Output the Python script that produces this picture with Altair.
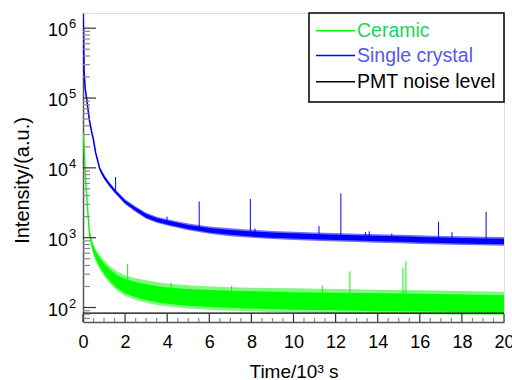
import altair as alt
import pandas as pd

# ---------------- data ----------------
# Single crystal (blue) decay: centre line
blue_t = [0, 0.02, 0.05, 0.1, 0.18, 0.3, 0.4, 0.5, 0.6, 0.8, 1.0, 1.25, 1.5, 2.0, 2.5,
          3.0, 3.5, 4.0, 5, 6, 7, 8, 9, 10, 11, 12, 13, 14, 15, 16, 17, 18, 19, 20]
blue_v = [1.6e6, 1.0e6, 2.5e5, 1.4e5, 9.5e4, 4.9e4, 3.4e4, 2.5e4, 1.65e4, 9.6e3, 7.4e3,
          5.8e3, 4.7e3, 3.25e3, 2.55e3, 2.05e3, 1.8e3, 1.65e3, 1.42e3, 1.28e3, 1.19e3,
          1.13e3, 1.09e3, 1.06e3, 1.035e3, 1.015e3, 995, 975, 955, 935, 918, 902, 890, 880]
# Single crystal noise band (core and pale fringe)
blue_band_t = [0.8, 1.0, 1.25, 1.5, 2, 2.5, 3, 3.5, 4, 5, 6, 7, 8, 9, 10, 11, 12, 13, 14, 15,
               16, 17, 18, 19, 20]
blue_lo = [9.3e3, 7.1e3, 5.55e3, 4.5e3, 3.1e3, 2.42e3, 1.93e3, 1.69e3, 1.55e3, 1.33e3, 1.19e3,
           1.1e3, 1.04e3, 1.0e3, 975, 950, 930, 910, 890, 872, 855, 838, 823, 812, 802]
blue_hi = [9.9e3, 7.7e3, 6.05e3, 4.9e3, 3.42e3, 2.7e3, 2.18e3, 1.92e3, 1.76e3, 1.52e3, 1.38e3,
           1.29e3, 1.23e3, 1.19e3, 1.155e3, 1.13e3, 1.105e3, 1.085e3, 1.065e3, 1.045e3,
           1.025e3, 1.005e3, 990, 975, 965]
blue_outer_lo = [9.0e3, 6.9e3, 5.4e3, 4.35e3, 3.0e3, 2.33e3, 1.86e3, 1.63e3, 1.49e3, 1.28e3,
                 1.14e3, 1.05e3, 995, 955, 930, 905, 885, 865, 848, 830, 815, 800, 787, 777, 768]
blue_outer_hi = [1.02e4, 7.95e3, 6.25e3, 5.05e3, 3.55e3, 2.8e3, 2.27e3, 2.0e3, 1.84e3, 1.6e3,
                 1.45e3, 1.36e3, 1.3e3, 1.25e3, 1.215e3, 1.19e3, 1.165e3, 1.14e3, 1.12e3,
                 1.1e3, 1.08e3, 1.06e3, 1.045e3, 1.03e3, 1.02e3]
# Single crystal spikes
blue_spike_t = [1.55, 3.99, 5.52, 7.95, 8.17, 11.21, 12.25, 13.42, 13.6, 14.67, 16.89, 17.53, 19.15]
blue_spike_top = [7.4e3, 2.0e3, 3.3e3, 3.6e3, 1.35e3, 1.47e3, 4.3e3, 1.2e3, 1.23e3, 1.14e3,
                  1.7e3, 1.2e3, 2.35e3]
blue_spike_base = [4.8e3, 1.65e3, 1.35e3, 1.13e3, 1.12e3, 1.03e3, 1.01e3, 990, 985, 960,
                   918, 910, 890]

# Ceramic (green) decay: centre line
green_t = [0, 0.02, 0.05, 0.1, 0.15, 0.2, 0.25, 0.3, 0.4, 0.5, 0.6, 0.8, 1.0, 1.3, 1.6,
           2.0, 2.5, 3.0, 3.5, 4, 5, 6, 7, 8, 9, 10, 12, 14, 16, 18, 20]
green_v = [3.2e4, 3.0e4, 2.0e4, 9.0e3, 5.2e3, 3.1e3, 1.9e3, 1.2e3, 850, 670, 560, 440, 360,
           285, 238, 202, 178, 165, 154, 147, 139, 134, 130, 127, 126, 124, 122, 120, 118,
           116, 114]
# Ceramic noise band (dense core and pale fringe)
green_band_t = [0.3, 0.4, 0.5, 0.6, 0.8, 1.0, 1.3, 1.6, 2.0, 2.5, 3.0, 3.5, 4, 5, 6, 7, 8,
                9, 10, 12, 14, 16, 18, 20]
green_lo = [1.1e3, 770, 600, 495, 380, 305, 235, 192, 160, 140, 128, 119, 113, 106, 102, 99,
            97, 95, 93, 91, 89, 88, 86, 85]
green_hi = [1.3e3, 940, 750, 635, 510, 425, 345, 295, 258, 232, 217, 203, 194, 184, 178,
            174, 171, 168, 166, 163, 160, 157, 154, 150]
green_outer_lo = [1.05e3, 730, 560, 460, 350, 280, 215, 176, 146, 128, 117, 109, 104, 97, 93,
                  90, 88, 86, 85, 83, 81, 80, 79, 78]
green_outer_hi = [1.36e3, 1000, 800, 690, 560, 470, 385, 330, 290, 262, 245, 230, 220, 208,
                  200, 195, 192, 190, 188, 184, 180, 176, 172, 168]
# Ceramic spikes
green_spike_t = [2.12, 4.18, 7.06, 11.37, 12.68, 15.2, 15.34]
green_spike_top = [420, 225, 205, 205, 330, 370, 460]
green_spike_base = [200, 146, 130, 122, 121, 119, 119]

# PMT noise level
noise_t = [0, 20]
noise_v = [83, 83]

# axes
x_labels = [0, 2, 4, 6, 8, 10, 12, 14, 16, 18, 20]
x_minor = [0.5, 1, 1.5, 2.5, 3, 3.5, 4.5, 5, 5.5, 6.5, 7, 7.5, 8.5, 9, 9.5, 10.5, 11, 11.5,
           12.5, 13, 13.5, 14.5, 15, 15.5, 16.5, 17, 17.5, 18.5, 19, 19.5]
y_exponents = [2, 3, 4, 5, 6]
y_minor_mult = [2, 3, 4, 5, 6, 7, 8, 9]

legend_labels = ["Ceramic", "Single crystal", "PMT noise level"]
legend_line_colors = ["#00ff00", "#0000ff", "#000000"]
legend_text_colors = ["#1fd35a", "#5656f2", "#000000"]

# ---------------- chart ----------------
W, H = 421, 309
FONT = "Liberation Sans"
GREEN = "#00ff00"
GREEN_PALE = "#80f880"
BLUE = "#0000ff"
BLUE_PALE = "#7070ff"

xscale = alt.Scale(domain=[0, 20], nice=False, zero=False)
yscale = alt.Scale(type="log", domain=[62, 1.65e6], nice=False)

x_axis = alt.Axis(values=x_labels, format="d", ticks=False, grid=False, labelFontSize=18,
                  labelFont=FONT, labelColor="black", labelPadding=11, labelFlush=False,
                  labelOverlap=False, domainColor="#555555", domainWidth=1.5,
                  title="Time/10³ s", titleFont=FONT, titleFontSize=19,
                  titleFontWeight="normal", titleColor="black", titleY=55,
                  titleBaseline="alphabetic")
y_axis = alt.Axis(labels=False, ticks=False, grid=False, domainColor="#555555",
                  domainWidth=1.5, title="Intensity/(a.u.)", titleFont=FONT,
                  titleFontSize=20, titleFontWeight="normal", titleColor="black",
                  titleX=-61, titleY=167, titleAngle=270, titleAlign="center",
                  titleBaseline="middle")


def X(field="t"):
    return alt.X(f"{field}:Q", scale=xscale, axis=x_axis)


def Y(field="v"):
    return alt.Y(f"{field}:Q", scale=yscale, axis=y_axis)


gline = pd.DataFrame({"t": green_t, "v": green_v})
gband = pd.DataFrame({"t": green_band_t, "lo": green_lo, "hi": green_hi,
                      "olo": green_outer_lo, "ohi": green_outer_hi})
gspk = pd.DataFrame({"t": green_spike_t, "top": green_spike_top, "base": green_spike_base})
bline = pd.DataFrame({"t": blue_t, "v": blue_v})
bband = pd.DataFrame({"t": blue_band_t, "lo": blue_lo, "hi": blue_hi,
                      "olo": blue_outer_lo, "ohi": blue_outer_hi})
bspk = pd.DataFrame({"t": blue_spike_t, "top": blue_spike_top, "base": blue_spike_base})
noise = pd.DataFrame({"t": noise_t, "v": noise_v})

ymaj = pd.DataFrame({"v": [10.0 ** e for e in y_exponents],
                     "e": [str(e) for e in y_exponents]})
ymin_vals = []
for e in [1] + y_exponents[:-1]:
    for m in y_minor_mult:
        val = m * 10.0 ** e
        if 62 <= val <= 1.65e6:
            ymin_vals.append(val)
ymin = pd.DataFrame({"v": ymin_vals})
xmaj = pd.DataFrame({"t": x_labels})
xmin = pd.DataFrame({"t": x_minor})

layers = []
# green
layers.append(alt.Chart(gband).mark_area(color=GREEN_PALE, clip=True).encode(
    x=X(), y=Y("olo"), y2="ohi:Q"))
layers.append(alt.Chart(gband).mark_area(color=GREEN, clip=True).encode(
    x=X(), y=Y("lo"), y2="hi:Q"))
layers.append(alt.Chart(gline).mark_line(color=GREEN, strokeWidth=1.4, clip=True).encode(
    x=X(), y=Y()))
layers.append(alt.Chart(gspk).mark_rule(color=GREEN, strokeWidth=1, clip=True).encode(
    x=X(), y=Y("top"), y2="base:Q"))
# blue
layers.append(alt.Chart(bband).mark_area(color=BLUE_PALE, clip=True).encode(
    x=X(), y=Y("olo"), y2="ohi:Q"))
layers.append(alt.Chart(bband).mark_area(color=BLUE, clip=True).encode(
    x=X(), y=Y("lo"), y2="hi:Q"))
layers.append(alt.Chart(bline).mark_line(color=BLUE, strokeWidth=1.6, clip=True).encode(
    x=X(), y=Y()))
layers.append(alt.Chart(bspk).mark_rule(color=BLUE, strokeWidth=1, clip=True).encode(
    x=X(), y=Y("top"), y2="base:Q"))
# PMT noise level
layers.append(alt.Chart(noise).mark_line(color="black", strokeWidth=1.3, clip=True).encode(
    x=X(), y=Y()))

# inward ticks
layers.append(alt.Chart(ymaj).mark_rule(color="#333333", strokeWidth=1.2).encode(
    y=Y(), x=alt.value(0), x2=alt.value(13)))
layers.append(alt.Chart(ymin).mark_rule(color="#888888", strokeWidth=1.2).encode(
    y=Y(), x=alt.value(0), x2=alt.value(7)))
layers.append(alt.Chart(xmaj).mark_rule(color="#333333", strokeWidth=1.2).encode(
    x=X(), y=alt.value(H), y2=alt.value(H - 8)))
layers.append(alt.Chart(xmin).mark_rule(color="#888888", strokeWidth=1.2).encode(
    x=X(), y=alt.value(H), y2=alt.value(H - 4)))

# y tick labels 10^n
layers.append(alt.Chart(ymaj).mark_text(text="10", align="right", baseline="alphabetic",
                                         dy=8, fontSize=18, font=FONT, color="black").encode(
    y=Y(), x=alt.value(-15)))
layers.append(alt.Chart(ymaj).mark_text(align="left", baseline="alphabetic", dy=0,
                                         fontSize=13, font=FONT, color="black").encode(
    y=Y(), x=alt.value(-14), text="e:N"))

# legend
one = pd.DataFrame({"k": [0]})
layers.append(alt.Chart(one).mark_rect(fill="white", stroke="black", strokeWidth=1.5).encode(
    x=alt.value(226), x2=alt.value(W), y=alt.value(0), y2=alt.value(89)))
legend_y = [17.7, 42.5, 68.7]
for lab, lc, tc, yy in zip(legend_labels, legend_line_colors, legend_text_colors, legend_y):
    layers.append(alt.Chart(one).mark_rule(color=lc, strokeWidth=1.5).encode(
        x=alt.value(233), x2=alt.value(272), y=alt.value(yy)))
    layers.append(alt.Chart(one).mark_text(text=lab, align="left", baseline="middle",
                                            fontSize=19.5, font=FONT, color=tc).encode(
        x=alt.value(274), y=alt.value(yy)))

chart = alt.layer(*layers).properties(
    width=W, height=H,
    autosize=alt.AutoSizeParams(type="none"),
    padding={"left": 83, "top": 13, "right": 8, "bottom": 58},
).configure_view(stroke="black", strokeWidth=1.2).configure(font=FONT)

chart.save("out.html", embed_options={"renderer": "svg", "actions": False})
